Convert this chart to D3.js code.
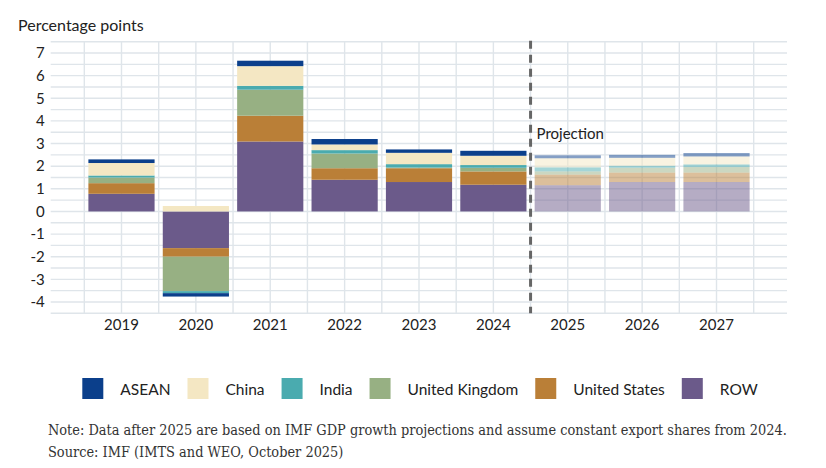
<!DOCTYPE html>
<html>
<head>
<meta charset="utf-8">
<script src="https://cdn.jsdelivr.net/npm/d3@7"></script>
<style>
  html, body { margin: 0; padding: 0; background: #fff; }
  svg { display: block; }
  .lbl { font-family: Lato, "Open Sans", sans-serif; fill: #222; }
  .note { font-family: "DejaVu Serif Condensed", "DejaVu Serif", serif; fill: #333; }
</style>
</head>
<body>
<svg id="chart" width="826" height="468"></svg>
<script>
;(function (window, document, undefined) {

  'use strict';

  // chart data
  var years = ['2019', '2020', '2021', '2022', '2023', '2024', '2025', '2026', '2027'];
  var firstProjection = '2025';

  var asean  = [0.16, -0.15, 0.24, 0.24, 0.15, 0.22, 0.13, 0.13, 0.15];
  var china  = [0.55,  0.24, 0.87, 0.25, 0.50, 0.41, 0.40, 0.35, 0.35];
  var india  = [0.09, -0.09, 0.17, 0.15, 0.15, 0.12, 0.18, 0.09, 0.12];
  var uk     = [0.25, -1.52, 1.15, 0.65, 0.03, 0.16, 0.14, 0.21, 0.24];
  var us     = [0.47, -0.38, 1.14, 0.51, 0.61, 0.59, 0.47, 0.42, 0.42];
  var row    = [0.78, -1.62, 3.09, 1.40, 1.30, 1.18, 1.16, 1.30, 1.30];

  var yTicks = [-4, -3, -2, -1, 0, 1, 2, 3, 4, 5, 6, 7];

  // legend order (left to right) and stacking order (bottom up)
  var legendKeys = ['ASEAN', 'China', 'India', 'United Kingdom', 'United States', 'ROW'];
  var stackKeys  = ['ROW', 'United States', 'United Kingdom', 'India', 'China', 'ASEAN'];

  var series = {
    'ASEAN': asean,
    'China': china,
    'India': india,
    'United Kingdom': uk,
    'United States': us,
    'ROW': row
  };

  var colors = {
    'ASEAN': '#0b3f8b',
    'China': '#f4e7c3',
    'India': '#4aabaf',
    'United Kingdom': '#97b083',
    'United States': '#ba7f37',
    'ROW': '#6b5a8a'
  };

  var table = years.map(function (yr, i) {
    var d = { year: yr };
    stackKeys.forEach(function (k) { d[k] = series[k][i]; });
    return d;
  });

  var svg = d3.select('#chart');
  var left = 50.7, right = 787, top = 41.7, bottom = 313.3;

  var x = d3.scaleBand()
            .domain(years)
            .range([84.3, 753.7])
            .paddingInner(0.11)
            .paddingOuter(0.055);

  var y = d3.scaleLinear()
            .domain([-4.5, 7.5])
            .range([bottom, top]);

  // grid
  var grid = svg.append('g').attr('stroke', '#dfe5ea').attr('stroke-width', 1.4);

  grid.selectAll('line.h')
    .data(d3.range(-4.5, 7.51, 0.5))
    .enter().append('line')
      .attr('x1', left).attr('x2', right)
      .attr('y1', function (d) { return y(d); })
      .attr('y2', function (d) { return y(d); });

  var step = x.step(), r0 = x.range()[0];
  var vlines = d3.range(0, years.length + 1).map(function (i) { return r0 + i * step; })
    .concat(years.map(function (yr) { return x(yr) + x.bandwidth() / 2; }));

  grid.selectAll('line.v')
    .data(vlines)
    .enter().append('line')
      .attr('x1', function (d) { return d; })
      .attr('x2', function (d) { return d; })
      .attr('y1', top).attr('y2', bottom);

  // stacked bars
  var stacked = d3.stack()
                  .keys(stackKeys)
                  .offset(d3.stackOffsetDiverging)(table);

  svg.append('g')
    .selectAll('g')
    .data(stacked)
    .enter().append('g')
      .attr('fill', function (s) { return colors[s.key]; })
    .selectAll('rect')
    .data(function (s) { return s; })
    .enter().append('rect')
      .attr('x', function (d) { return x(d.data.year); })
      .attr('width', x.bandwidth())
      .attr('y', function (d) { return y(Math.max(d[0], d[1])); })
      .attr('height', function (d) { return Math.abs(y(d[0]) - y(d[1])); })
      .attr('opacity', function (d) { return d.data.year >= firstProjection ? 0.5 : 1; });

  // projection divider
  var divX = x(firstProjection) - (step - x.bandwidth()) / 2;
  svg.append('line')
    .attr('x1', divX).attr('x2', divX)
    .attr('y1', top - 1).attr('y2', bottom)
    .attr('stroke', '#666')
    .attr('stroke-width', 3)
    .attr('stroke-dasharray', '8,6');

  svg.append('text')
    .attr('class', 'lbl')
    .attr('x', divX + 6)
    .attr('y', y(3.22))
    .style('font-size', '15px')
    .text('Projection');

  // axes
  var yAxis = svg.append('g')
    .attr('transform', 'translate(' + left + ',0)')
    .call(d3.axisLeft(y).tickValues(yTicks).tickSize(0).tickPadding(6)
            .tickFormat(function (d) { return String(d); }));

  var xAxis = svg.append('g')
    .attr('transform', 'translate(0,' + bottom + ')')
    .call(d3.axisBottom(x).tickSize(0).tickPadding(6));

  [yAxis, xAxis].forEach(function (a) {
    a.select('.domain').remove();
    a.selectAll('text')
      .attr('class', 'lbl')
      .style('font-size', '15px')
      .attr('fill', '#222');
  });

  svg.append('text')
    .attr('class', 'lbl')
    .attr('x', 18)
    .attr('y', 31)
    .style('font-size', '16px')
    .text('Percentage points');

  // legend, laid out left to right then centred on the plot
  var legend = svg.append('g');
  var cursor = 0;
  legendKeys.forEach(function (k) {
    var item = legend.append('g').attr('transform', 'translate(' + cursor + ',0)');
    item.append('rect')
      .attr('width', 21).attr('height', 21)
      .attr('y', 378)
      .attr('fill', colors[k]);
    var t = item.append('text')
      .attr('class', 'lbl')
      .attr('x', 38)
      .attr('y', 394.5)
      .style('font-size', '15.5px')
      .text(k);
    cursor += 38 + t.node().getComputedTextLength() + 17;
  });
  var legendWidth = cursor - 17;
  legend.attr('transform', 'translate(' + (420 - legendWidth / 2) + ',0)');

  // notes
  svg.append('text')
    .attr('class', 'note')
    .attr('x', 48)
    .attr('y', 435)
    .style('font-size', '14.4px')
    .text('Note: Data after 2025 are based on IMF GDP growth projections and assume constant export shares from 2024.');

  svg.append('text')
    .attr('class', 'note')
    .attr('x', 48)
    .attr('y', 457)
    .style('font-size', '14.4px')
    .text('Source: IMF (IMTS and WEO, October 2025)');

})(window, document);
</script>
</body>
</html>
